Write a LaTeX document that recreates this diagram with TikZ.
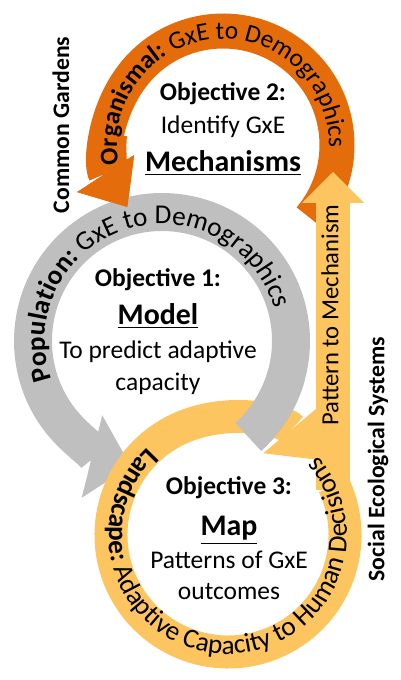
\documentclass[tikz,border=0pt]{standalone}
\usepackage{fontspec}
\setmainfont{Carlito}
\usepackage{tikz}
\usetikzlibrary{arrows.meta,positioning,decorations.text}

\definecolor{orgorange}{RGB}{228,108,10}
\definecolor{popgray}{RGB}{191,191,191}
\definecolor{landyellow}{RGB}{253,197,96}

\newcommand{\fsz}[1]{\fontsize{#1}{#1}\selectfont}

\begin{document}
\begin{tikzpicture}[x=0.02cm, y=0.02cm,
    band/.style={line width=0.7cm},
    ringhead/.style={-{Triangle[width=#1, length=0.8cm, line width=0pt]}},
    arctext/.style={decorate, decoration={text along path, text align=center, text={#1}}},
    otitle/.style={font=\fsz{14.5}\bfseries, inner sep=0pt, text height=10.5pt, text depth=3.5pt},
    otext/.style={font=\fsz{14.5}, inner sep=0pt, text height=10.5pt, text depth=3.5pt},
    obig/.style={font=\fsz{17}\bfseries, inner sep=0pt, text height=12.5pt, text depth=4pt},
    side/.style={font=\fsz{13.5}\bfseries, rotate=90}
]
    \useasboundingbox (0,0) rectangle (400,680);

    \coordinate (orgc) at (223,535);
    \coordinate (popc) at (162,339);
    \coordinate (landc) at (228,145);
    \coordinate (patfoot) at (333,190);
    \coordinate (pattip) at (333,508);

    % rings, back to front
    \draw[band, orgorange, ringhead=1.36cm] ([shift={(-40:114)}]orgc) arc[start angle=-40, end angle=213, radius=114];
    \draw[band, popgray, line width=0.76cm, ringhead=1.7cm] ([shift={(-48:129)}]popc) arc[start angle=-48, end angle=256, radius=129];
    \draw[band, orgorange, ringhead=1.36cm] ([shift={(175:114)}]orgc) arc[start angle=175, end angle=213, radius=114];
    \draw[band, landyellow, line width=0.66cm, ringhead=1.5cm] ([shift={(25:117)}]landc) arc[start angle=25, end angle=-320, radius=117];
    \draw[band, popgray, line width=0.76cm] ([shift={(-48:129)}]popc) arc[start angle=-48, end angle=-15, radius=129];
    \draw[landyellow, line width=0.68cm, -{Triangle[width=1.24cm, length=0.62cm, line width=0pt]}] (patfoot) -- (pattip);

    % ring labels
    \path[arctext={|\fsz{14.5}\bfseries|Organismal:|\fsz{14.5}| GxE to Demographics}] ([shift={(200:106)}]orgc) arc[start angle=200, end angle=-11, radius=106];
    \path[arctext={|\fsz{15.5}\bfseries|Population:|\fsz{15.5}| GxE to Demographics}] ([shift={(220:117)}]popc) arc[start angle=220, end angle=-5, radius=117];
    \path[arctext={|\fsz{15.5}\bfseries|Landscape:|\fsz{15.5}| Adaptive Capacity to Human Decisions}] ([shift={(127:119)}]landc) arc[start angle=127, end angle=407, radius=119];

    % objectives
    \node[otitle] (obj2) at (223,586) {Objective 2:};
    \node[otext, below=4.7pt of obj2] (obj2a) {Identify GxE};
    \node[obig, below=5pt of obj2a] (obj2b) {\underline{Mechanisms}};

    \node[otitle] (obj1) at (158,400) {Objective 1:};
    \node[obig, below=5.7pt of obj1] (obj1a) {\underline{Model}};
    \node[otext, below=4.3pt of obj1a] (obj1b) {To predict adaptive};
    \node[otext, below=3.6pt of obj1b] (obj1c) {capacity};

    \node[otitle] (obj3) at (229,192) {Objective 3:};
    \node[obig, below=7.4pt of obj3] (obj3a) {\underline{Map}};
    \node[otext, below=3.7pt of obj3a] (obj3b) {Patterns of GxE};
    \node[otext, below=3.1pt of obj3b] (obj3c) {outcomes};

    % side labels
    \node[side] (garden) at (61,555) {Common Gardens};
    \node[side] (social) at (378,221) {Social Ecological Systems};
    \node[font=\fsz{14}, rotate=90] (patlab) at (330,365) {Pattern to Mechanism};
\end{tikzpicture}
\end{document}
